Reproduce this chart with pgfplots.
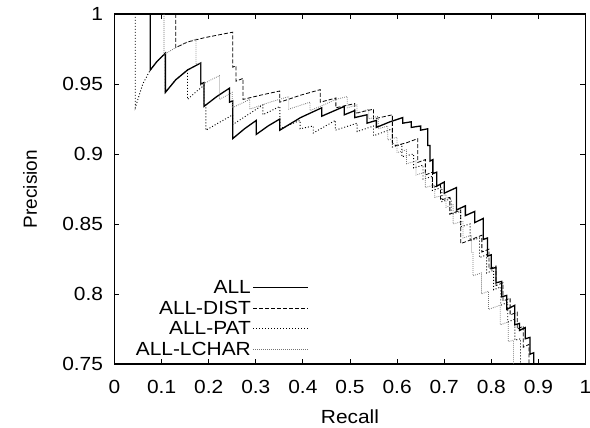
\documentclass[border=0pt]{standalone}
\usepackage{fontspec}
\setmainfont{Liberation Sans}
\usepackage{graphicx}
\usepackage{pgfplots}
\pgfplotsset{compat=1.18}
\newcommand{\hstretch}[1]{\scalebox{1.1}[1]{#1}}
\newcommand{\legtext}[1]{\hstretch{#1}\hspace{11pt}}
\begin{document}
\begin{tikzpicture}[font=\fontsize{19}{22}\selectfont]
\begin{axis}[
  scale only axis, width=471pt, height=350pt,
  xmin=0, xmax=1, ymin=0.75, ymax=1,
  xtick={0,0.1,0.2,0.3,0.4,0.5,0.6,0.7,0.8,0.9,1},
  ytick={0.75,0.8,0.85,0.9,0.95,1},
  /pgf/number format/assume math mode=true,
  xticklabel={\hstretch{\pgfmathprintnumber{\tick}}},
  yticklabel={\hstretch{\pgfmathprintnumber{\tick}}},
  tick label style={font=\fontsize{19}{22}\selectfont},
  xticklabel style={yshift=-13pt},
  yticklabel style={xshift=-8pt},
  major tick length=5pt,
  axis line style={line width=1.3pt},
  every tick/.style={black, line width=0.8pt},
  xlabel={\hstretch{Recall}}, ylabel={Precision},
  x label style={at={(axis description cs:0.5,-0.150)},anchor=center,inner sep=0pt},
  y label style={at={(axis description cs:-0.179,0.5)},anchor=center},
  legend style={at={(0.42,0.008)},anchor=south east,draw=none,fill=none,
    font=\fontsize{19}{21}\selectfont, row sep=2pt},
  legend cell align=right,
  legend plot pos=right,
  legend image code/.code={\draw[#1] (0pt,0pt) -- (55pt,0pt);},
]
\addplot[black, line width=1.3pt] coordinates {
(0.076,1.000) (0.076,0.960) (0.090,0.966) (0.108,0.972) (0.108,0.944)
(0.130,0.953) (0.155,0.960) (0.183,0.965) (0.183,0.950) (0.190,0.951)
(0.190,0.934) (0.217,0.941) (0.244,0.947) (0.244,0.937) (0.251,0.938)
(0.251,0.911) (0.276,0.918) (0.301,0.924) (0.301,0.914) (0.326,0.920)
(0.351,0.925) (0.351,0.917) (0.395,0.926) (0.440,0.933) (0.440,0.927)
(0.488,0.934) (0.488,0.928) (0.510,0.931) (0.510,0.926) (0.536,0.928)
(0.536,0.922) (0.556,0.924) (0.556,0.919) (0.585,0.923) (0.612,0.926)
(0.612,0.922) (0.630,0.923) (0.630,0.919) (0.650,0.920) (0.650,0.917)
(0.665,0.918) (0.665,0.906) (0.670,0.906) (0.670,0.895) (0.676,0.896)
(0.676,0.886) (0.684,0.887) (0.684,0.877) (0.700,0.880) (0.700,0.872)
(0.726,0.876) (0.726,0.860) (0.745,0.863) (0.745,0.856) (0.765,0.859)
(0.765,0.851) (0.783,0.854) (0.783,0.839) (0.792,0.840) (0.792,0.827)
(0.800,0.828) (0.800,0.818) (0.810,0.819) (0.810,0.808) (0.822,0.809)
(0.822,0.798) (0.833,0.799) (0.833,0.789) (0.850,0.792) (0.850,0.778)
(0.860,0.779) (0.860,0.774) (0.872,0.776) (0.872,0.768) (0.882,0.769)
(0.882,0.757) (0.890,0.758) (0.890,0.750)
};
\addlegendentry{\legtext{ALL}}
\addplot[black, line width=0.8pt, dash pattern=on 4pt off 2pt] coordinates {
(0.130,1.000) (0.130,0.976) (0.155,0.980) (0.190,0.983) (0.220,0.985)
(0.251,0.987) (0.251,0.962) (0.258,0.963) (0.258,0.952) (0.273,0.954)
(0.273,0.939) (0.310,0.942) (0.351,0.945) (0.351,0.937) (0.395,0.942)
(0.437,0.946) (0.437,0.937) (0.470,0.940) (0.470,0.933) (0.510,0.936)
(0.510,0.929) (0.550,0.932) (0.550,0.925) (0.590,0.928) (0.590,0.908)
(0.597,0.906) (0.620,0.908) (0.644,0.911) (0.644,0.894) (0.660,0.896)
(0.660,0.885) (0.675,0.887) (0.675,0.876) (0.692,0.878) (0.692,0.867)
(0.712,0.869) (0.712,0.857) (0.735,0.860) (0.735,0.836) (0.751,0.838)
(0.780,0.842) (0.780,0.830) (0.795,0.832) (0.795,0.818) (0.810,0.820)
(0.810,0.806) (0.825,0.808) (0.825,0.795) (0.840,0.797) (0.840,0.785)
(0.855,0.787) (0.855,0.775) (0.868,0.777) (0.868,0.762) (0.880,0.764)
(0.880,0.750)
};
\addlegendentry{\legtext{ALL-DIST}}
\addplot[black, line width=0.9pt, dash pattern=on 1pt off 2pt] coordinates {
(0.044,1.000) (0.044,0.933) (0.060,0.950) (0.076,0.960) (0.090,0.966)
(0.108,0.972) (0.108,0.944) (0.130,0.953) (0.155,0.960) (0.155,0.939)
(0.175,0.945) (0.190,0.949) (0.190,0.935) (0.194,0.935) (0.194,0.917)
(0.225,0.923) (0.251,0.928) (0.251,0.921) (0.283,0.928) (0.315,0.935)
(0.315,0.928) (0.351,0.934) (0.351,0.918) (0.394,0.924) (0.394,0.918)
(0.422,0.920) (0.422,0.915) (0.469,0.924) (0.469,0.917) (0.515,0.922)
(0.515,0.916) (0.550,0.920) (0.550,0.913) (0.590,0.918) (0.590,0.905)
(0.610,0.907) (0.610,0.898) (0.635,0.900) (0.635,0.890) (0.655,0.892)
(0.655,0.882) (0.675,0.884) (0.675,0.874) (0.695,0.876) (0.695,0.866)
(0.715,0.868) (0.715,0.857) (0.735,0.859) (0.735,0.848) (0.755,0.850)
(0.755,0.838) (0.775,0.840) (0.775,0.826) (0.790,0.828) (0.790,0.815)
(0.805,0.817) (0.805,0.803) (0.820,0.805) (0.820,0.792) (0.835,0.794)
(0.835,0.780) (0.850,0.782) (0.850,0.767) (0.862,0.768) (0.862,0.750)
};
\addlegendentry{\legtext{ALL-PAT}}
\addplot[black!55, line width=0.8pt, dash pattern=on 0.8pt off 1.2pt] coordinates {
(0.105,1.000) (0.105,0.971) (0.130,0.976) (0.155,0.980) (0.173,0.982)
(0.173,0.964) (0.183,0.965) (0.183,0.949) (0.205,0.953) (0.223,0.956)
(0.223,0.939) (0.250,0.944) (0.250,0.933) (0.287,0.939) (0.287,0.932)
(0.330,0.937) (0.370,0.941) (0.370,0.932) (0.415,0.937) (0.415,0.931)
(0.444,0.935) (0.470,0.939) (0.494,0.941) (0.494,0.933) (0.515,0.935)
(0.515,0.929) (0.540,0.932) (0.540,0.925) (0.560,0.927) (0.560,0.918)
(0.580,0.920) (0.580,0.910) (0.600,0.912) (0.600,0.901) (0.620,0.903)
(0.620,0.893) (0.640,0.895) (0.640,0.885) (0.660,0.887) (0.660,0.876)
(0.680,0.878) (0.680,0.869) (0.704,0.871) (0.704,0.862) (0.719,0.864)
(0.719,0.850) (0.740,0.852) (0.740,0.840) (0.758,0.842) (0.758,0.830)
(0.761,0.830) (0.761,0.813) (0.779,0.815) (0.779,0.800) (0.794,0.802)
(0.794,0.789) (0.819,0.792) (0.819,0.778) (0.836,0.780) (0.836,0.766)
(0.847,0.767) (0.847,0.750)
};
\addlegendentry{\legtext{ALL-LCHAR}}
\end{axis}
\pgfresetboundingbox
\path[use as bounding box] (-114.5pt,-64pt) rectangle (475.5pt,364pt);
\end{tikzpicture}
\end{document}
